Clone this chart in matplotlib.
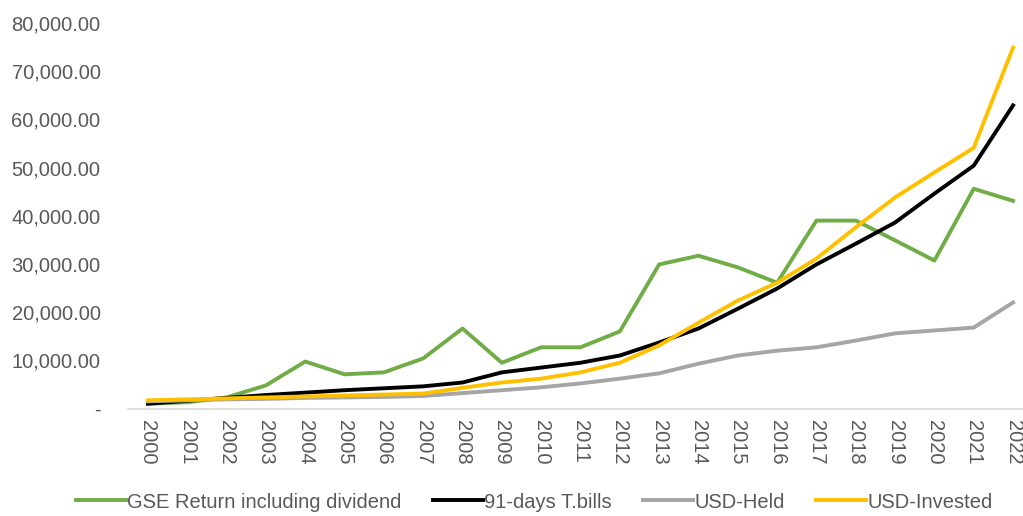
import matplotlib
matplotlib.use("Agg")
import matplotlib.pyplot as plt
from matplotlib.ticker import FuncFormatter

years = [str(y) for y in range(2000, 2023)]

gse_return = [1000, 1300, 2300, 4800, 9750, 7100, 7500, 10400, 16600, 9500,
              12700, 12700, 16000, 29900, 31700, 29300, 26100, 39000, 39000,
              34900, 30700, 45600, 43100]
tbills_91 = [1000, 1600, 2200, 2800, 3300, 3800, 4200, 4600, 5400, 7500,
             8500, 9500, 11000, 13700, 16600, 20700, 24900, 29900, 34200,
             38600, 44600, 50400, 62900]
usd_held = [1500, 1700, 1900, 2000, 2200, 2300, 2400, 2600, 3200, 3800,
            4400, 5200, 6200, 7300, 9300, 11000, 12000, 12700, 14100,
            15600, 16200, 16800, 22000]
usd_invested = [1700, 1900, 2100, 2300, 2500, 2700, 2900, 3100, 4300, 5400,
                6200, 7500, 9500, 13100, 17800, 22400, 26100, 31100, 37600,
                43800, 49000, 54100, 74900]

plt.rcParams["font.family"] = ["Liberation Sans", "DejaVu Sans"]
text_color = "#595959"

fig = plt.figure(figsize=(10.23, 5.16), dpi=100)
ax = fig.add_axes([0.1254, 0.2083, 0.8841, 0.7471])

x = range(len(years))
lw = 2.8
ax.plot(x, gse_return, color="#70AD47", lw=lw, label="GSE Return including dividend")
ax.plot(x, tbills_91, color="#000000", lw=lw, label="91-days T.bills")
ax.plot(x, usd_held, color="#A5A5A5", lw=lw, label="USD-Held")
ax.plot(x, usd_invested, color="#FFC000", lw=lw, label="USD-Invested")

ax.set_xlim(-0.5, len(years) - 0.5)
ax.set_ylim(0, 80000)
ax.set_yticks(range(0, 80001, 10000))
ax.yaxis.set_major_formatter(FuncFormatter(lambda v, _: "-" if v == 0 else f"{v:,.2f}"))
ax.set_xticks(list(x))
ax.set_xticklabels(years, rotation=270)

for s in ["top", "right", "left"]:
    ax.spines[s].set_visible(False)
ax.spines["bottom"].set_color("#D9D9D9")
ax.spines["bottom"].set_linewidth(1.2)
ax.tick_params(axis="both", length=0, colors=text_color, labelsize=14.5)
ax.tick_params(axis="y", pad=20)
ax.tick_params(axis="x", pad=8)

fig.legend(loc="center", bbox_to_anchor=(0.522, 1 - 502 / 516), ncol=4,
           frameon=False, fontsize=14.5, labelcolor=text_color,
           handlelength=2.5, handletextpad=0.05, columnspacing=1.55)

fig.savefig("out.png", dpi=100)
